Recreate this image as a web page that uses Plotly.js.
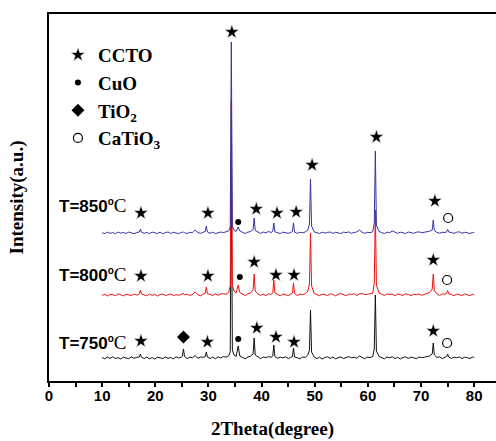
<!DOCTYPE html>
<html>
<head>
<meta charset="utf-8">
<script src="https://cdn.plot.ly/plotly-3.0.1.min.js"></script>
<style>html,body{margin:0;padding:0;background:#fff;}#chart{width:496px;height:441px;}</style>
</head>
<body>
<div id="chart"></div>
<script>
// 2-theta grid (degree)
const twoTheta = [
  10.0,10.5,11.0,11.5,12.0,12.5,13.0,13.5,14.0,14.5,15.0,15.5,16.0,16.5,
  17.0,17.2,17.4,
  17.9,18.4,18.9,19.4,19.9,20.4,20.9,21.4,21.9,22.4,22.9,23.4,23.9,24.4,24.9,
  25.1,25.3,25.5,
  26.0,26.5,27.0,27.5,28.0,28.5,29.0,
  29.4,29.6,29.8,
  30.3,30.8,31.3,31.8,32.3,32.8,33.3,33.8,
  34.1,34.3,34.5,34.8,35.2,35.6,35.9,
  36.4,36.9,37.4,37.9,
  38.4,38.6,38.8,
  39.3,39.8,40.3,40.8,41.3,41.8,
  42.1,42.3,42.5,
  43.0,43.5,44.0,44.5,45.0,45.5,
  45.8,46.0,46.2,
  46.7,47.2,47.7,48.2,48.7,
  49.0,49.2,49.4,
  49.9,50.4,50.9,51.4,51.9,52.4,52.9,53.4,53.9,54.4,54.9,55.4,55.9,56.4,56.9,57.4,57.9,58.4,58.9,59.4,59.9,60.4,60.9,
  61.2,61.4,61.6,
  62.1,62.6,63.1,63.6,64.1,64.6,65.1,65.6,66.1,66.6,67.1,67.6,68.1,68.6,69.1,69.6,70.1,70.6,71.1,71.6,
  72.1,72.3,72.5,
  73.0,73.5,74.0,74.5,
  74.8,75.0,75.2,
  75.7,76.2,76.7,77.2,77.7,78.2,78.7,79.2,79.7,80.0
];

// intensities above background (a.u.)
const I750 = [
  5,-8,10,-4,12,-6,3,-10,8,0,-7,11,-3,6,
  10,40,8,
  -5,9,-8,4,-11,7,2,-6,10,-3,5,-9,12,0,8,
  20,90,15,
  -6,8,3,25,-4,10,6,
  15,60,10,
  -5,9,-8,12,0,15,8,22,
  60,2000,80,30,15,120,20,
  5,-8,10,18,
  40,200,30,
  12,-6,10,3,14,8,
  20,130,15,
  -4,9,2,12,-6,8,
  15,100,10,
  3,-8,10,6,30,
  80,480,60,
  10,-6,8,-10,5,12,-4,9,-8,3,11,-5,7,14,2,8,-3,20,6,-7,10,4,15,
  90,630,70,
  15,5,-8,10,3,12,-6,8,-10,6,11,-4,9,2,-7,10,4,8,12,20,
  40,150,30,
  5,12,-6,8,
  12,40,10,
  -4,9,2,11,-6,8,3,-5,10,4
];
const I800 = [
  -4,8,-10,6,3,-7,12,0,-9,7,4,-5,10,-2,
  12,50,10,
  3,-8,10,-4,7,-11,5,9,-6,2,11,-7,4,-3,8,
  5,15,2,
  9,-5,6,30,4,-8,10,
  18,80,12,
  7,-6,11,-3,9,14,6,25,
  90,1950,100,40,20,100,25,
  8,-5,12,20,
  50,210,40,
  10,-4,8,-7,12,6,
  25,150,20,
  6,-8,11,3,-5,9,
  20,120,15,
  -6,8,4,12,40,
  110,620,90,
  15,4,-7,10,2,-5,12,6,-9,8,14,0,-6,10,5,12,-4,9,15,3,8,12,18,
  120,850,100,
  20,8,-5,11,4,9,-7,10,2,-4,12,6,-8,9,3,11,-3,7,14,25,
  60,210,45,
  10,-4,12,8,
  15,45,12,
  6,-7,9,3,-5,10,2,-6,8,0
];
const I850 = [
  3,-6,8,-3,5,-8,10,-2,6,-5,9,1,-7,4,
  10,40,8,
  -3,6,-7,9,2,-5,8,-8,4,10,-4,6,0,-6,7,
  4,10,2,
  -5,7,3,30,5,-4,8,
  15,70,10,
  -3,8,-6,5,10,4,12,20,
  60,1910,70,30,15,60,20,
  6,-5,8,15,
  35,150,25,
  8,-4,10,2,15,5,
  18,100,12,
  4,-6,9,2,-3,7,
  15,100,10,
  -4,7,3,10,30,
  90,540,70,
  12,3,-5,8,-2,6,10,-4,7,2,-6,9,4,11,-3,6,10,30,8,-4,7,3,12,
  100,820,80,
  15,4,-6,9,3,20,5,-4,8,2,-5,10,4,-3,7,12,2,6,10,18,
  30,130,25,
  6,-3,8,4,
  12,35,10,
  5,-4,8,12,-3,7,2,-5,6,3
];

// vertical stacking offsets of the patterns (a.u.)
const offset750 = 230, offset800 = 860, offset850 = 1480;

// phase identification marks (2theta, label height a.u.)
const cctoX = [17.3,29.9,34.4,39.0,42.9,46.5,49.5,61.6,72.6, 17.3,29.9,38.6,42.7,46.1,72.3, 17.3,29.8,39.1,42.7,46.1,72.3];
const cctoY = [1680,1680,3490,1720,1680,1690,2160,2440,1800, 1050,1050,1190,1060,1060,1210, 400,390,530,440,390,500];
const cuoX = [35.6,35.9,35.6];
const cuoY = [1590,1040,420];
const tio2X = [25.3];
const tio2Y = [440];
const catio3X = [75.1,74.9,74.9];
const catio3Y = [1630,1010,380];

const sampleLabels = ['T=850', 'T=800', 'T=750'];

const shift = (arr, off) => arr.map(v => v + off);

const traces = [
  {x: twoTheta, y: shift(I750, offset750), type: 'scatter', mode: 'lines', line: {color: '#111111', width: 1}, showlegend: false},
  {x: twoTheta, y: shift(I800, offset800), type: 'scatter', mode: 'lines', line: {color: '#ee1111', width: 1}, showlegend: false},
  {x: twoTheta, y: shift(I850, offset850), type: 'scatter', mode: 'lines', line: {color: '#3535a0', width: 1}, showlegend: false},
  {x: cctoX, y: cctoY, name: 'CCTO', legendgroup: 'a', type: 'scatter', mode: 'markers', marker: {symbol: 'star', size: 11, color: '#000', line: {width: 0.6, color: '#fff'}}},
  {x: cuoX, y: cuoY, name: 'CuO', legendgroup: 'b', type: 'scatter', mode: 'markers', marker: {symbol: 'circle', size: 6, color: '#000'}},
  {x: tio2X, y: tio2Y, name: 'TiO<sub>2</sub>', legendgroup: 'c', type: 'scatter', mode: 'markers', marker: {symbol: 'diamond', size: 10, color: '#000'}},
  {x: catio3X, y: catio3Y, name: 'CaTiO<sub>3</sub>', legendgroup: 'd', type: 'scatter', mode: 'markers', marker: {symbol: 'circle-open', size: 9, color: '#000', line: {width: 1.2, color: '#000'}}}
];

const labelY = [0.477, 0.289, 0.106];
const annotations = sampleLabels.map((t, i) => ({
  xref: 'paper', yref: 'paper', x: 0.018, y: labelY[i], xanchor: 'left', yanchor: 'middle', showarrow: false,
  text: t + '<sup><span style="font-size:10px">o</span></sup><span style="font-family:\'Liberation Serif\';font-weight:normal;font-size:19px">C</span>',
  font: {family: 'Liberation Sans', size: 17, color: '#000', weight: 700}
}));

const layout = {
  width: 496, height: 441,
  margin: {l: 49, r: 0, t: 14, b: 60},
  paper_bgcolor: '#fff', plot_bgcolor: '#fff',
  showlegend: true,
  legend: {x: 0.02, y: 0.94, xanchor: 'left', yanchor: 'top', bgcolor: 'rgba(0,0,0,0)', traceorder: 'grouped', tracegroupgap: 0,
    font: {family: 'Liberation Serif', size: 19, color: '#000', weight: 700}},
  xaxis: {
    range: [0, 84.1], showgrid: false, zeroline: false,
    showline: true, linewidth: 2, linecolor: '#000', mirror: true,
    ticks: 'outside', ticklen: 4, tickwidth: 2, tickcolor: '#000', dtick: 10, tick0: 0,
    minor: {dtick: 5, ticks: 'outside', ticklen: 4, tickwidth: 2, tickcolor: '#000'},
    tickfont: {family: 'Liberation Sans', size: 15, color: '#000', weight: 700},
    ticklabelstandoff: -4,
    title: {text: '2Theta(degree)', standoff: 19, font: {family: 'Liberation Serif', size: 19, color: '#000', weight: 700}}
  },
  yaxis: {
    range: [0, 3670], showgrid: false, zeroline: false,
    showline: true, linewidth: 2, linecolor: '#000', mirror: false,
    ticks: '', showticklabels: false,
    title: {text: 'Intensity(a.u.)', standoff: 18, font: {family: 'Liberation Serif', size: 19, color: '#000', weight: 700}}
  },
  annotations: annotations
};

Plotly.newPlot('chart', traces, layout, {staticPlot: true, displayModeBar: false});
</script>
</body>
</html>
